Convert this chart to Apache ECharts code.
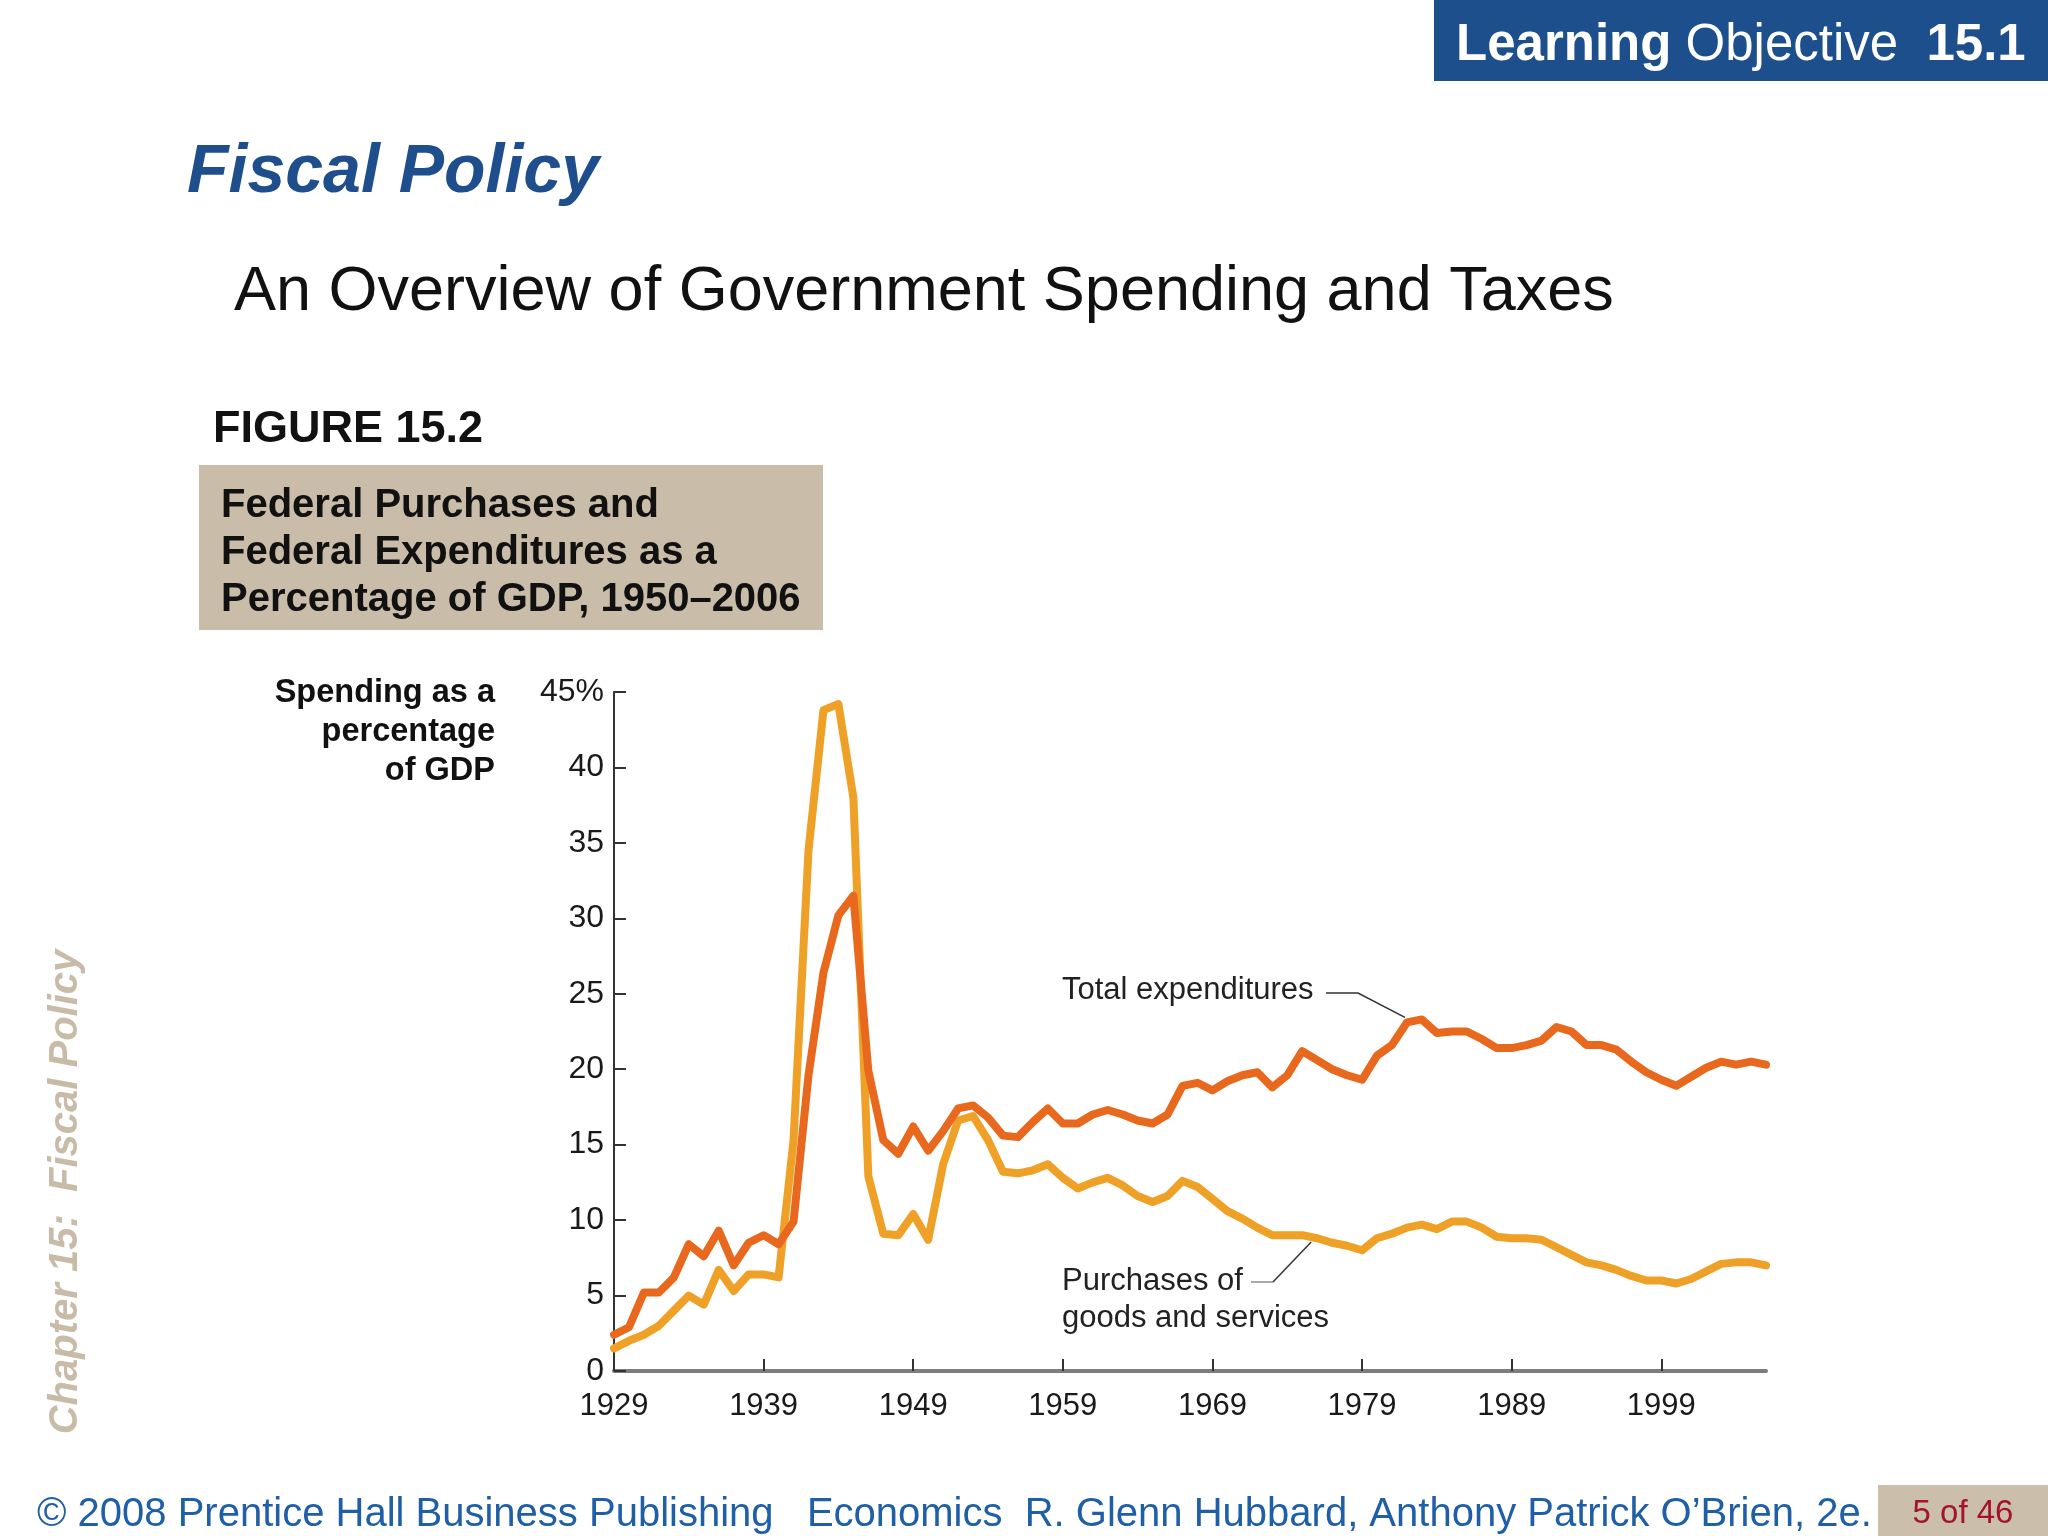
<!DOCTYPE html>
<html>
<head>
<meta charset="utf-8">
<script src="https://cdn.jsdelivr.net/npm/echarts@6/dist/echarts.min.js"></script>
<style>
  html, body { margin: 0; padding: 0; background: #ffffff; }
  #chart { width: 2048px; height: 1536px; }
</style>
</head>
<body>
<div id="chart"></div>
<script>
// ---------- data ----------
const years = [];
for (let y = 1929; y <= 2006; y++) years.push(String(y));

const totalExpenditures = [
  2.4, 2.9, 5.2, 5.2, 6.2, 8.4, 7.6, 9.3, 7.0, 8.5,        // 1929-1938
  9.0, 8.4, 9.9, 19.6, 26.4, 30.2, 31.5, 19.9, 15.3, 14.4, // 1939-1948
  16.2, 14.6, 15.9, 17.4, 17.6, 16.8, 15.6, 15.5, 16.5, 17.4, // 1949-1958
  16.4, 16.4, 17.0, 17.3, 17.0, 16.6, 16.4, 17.0, 18.9, 19.1, // 1959-1968
  18.6, 19.2, 19.6, 19.8, 18.8, 19.6, 21.2, 20.6, 20.0, 19.6, // 1969-1978
  19.3, 20.9, 21.6, 23.1, 23.3, 22.4, 22.5, 22.5, 22.0, 21.4, // 1979-1988
  21.4, 21.6, 21.9, 22.8, 22.5, 21.6, 21.6, 21.3, 20.5, 19.8, // 1989-1998
  19.3, 18.9, 19.5, 20.1, 20.5, 20.3, 20.5, 20.3              // 1999-2006
];

const purchases = [
  1.5, 2.0, 2.4, 3.0, 4.0, 5.0, 4.4, 6.7, 5.3, 6.4,          // 1929-1938
  6.4, 6.2, 15.3, 34.5, 43.8, 44.2, 38.0, 12.9, 9.1, 9.0,    // 1939-1948
  10.4, 8.7, 13.7, 16.6, 16.9, 15.3, 13.2, 13.1, 13.3, 13.7, // 1949-1958
  12.8, 12.1, 12.5, 12.8, 12.3, 11.6, 11.2, 11.6, 12.6, 12.2, // 1959-1968
  11.4, 10.6, 10.1, 9.5, 9.0, 9.0, 9.0, 8.8, 8.5, 8.3,       // 1969-1978
  8.0, 8.8, 9.1, 9.5, 9.7, 9.4, 9.9, 9.9, 9.5, 8.9,          // 1979-1988
  8.8, 8.8, 8.7, 8.2, 7.7, 7.2, 7.0, 6.7, 6.3, 6.0,          // 1989-1998
  6.0, 5.8, 6.1, 6.6, 7.1, 7.2, 7.2, 7.0                     // 1999-2006
];

const yTicks = { min: 0, max: 45, step: 5 };
const xLabelEvery = 10;

const axisTitleLines = ['Spending as a', 'percentage', 'of GDP'];
const figureBoxLines = ['Federal Purchases and', 'Federal Expenditures as a', 'Percentage of GDP, 1950\u20132006'];

// ---------- chart ----------
const FONT = '"Liberation Sans", Arial, Helvetica, sans-serif';
const chart = echarts.init(document.getElementById('chart'), null, { renderer: 'canvas' });

function txt(x, y, text, opts) {
  return {
    type: 'text', x: x, y: y, silent: true,
    style: Object.assign({
      text: text, fill: '#111', fontFamily: FONT, fontSize: 30,
      textAlign: 'left', textVerticalAlign: 'middle'
    }, opts || {})
  };
}

function baseGraphics() {
  const g = [];
  // header box
  g.push({ type: 'rect', shape: { x: 1434, y: 0, width: 614, height: 81 }, style: { fill: '#1c4f8b' }, silent: true });
  g.push({
    type: 'text', x: 1456, y: 46, silent: true,
    style: {
      text: '{b|Learning\u00A0}{r|Objective\u00A0\u00A0}{b|15.1}',
      textVerticalAlign: 'middle', textAlign: 'left',
      rich: {
        b: { fontSize: 51, fontWeight: 'bold', fontFamily: FONT, fill: '#ffffff' },
        r: { fontSize: 51, fontWeight: 'normal', fontFamily: FONT, fill: '#ffffff' }
      }
    }
  });
  // title + subtitle
  g.push(txt(187, 173, 'Fiscal Policy', { fontSize: 68, fontWeight: 'bold', fontStyle: 'italic', fill: '#1f4e8c' }));
  g.push(txt(234, 293, 'An Overview of Government Spending and Taxes', { fontSize: 63, fill: '#111' }));
  // figure label
  g.push(txt(213, 430, 'FIGURE 15.2', { fontSize: 45, fontWeight: 'bold' }));
  g.push({ type: 'rect', shape: { x: 199, y: 465, width: 624, height: 165 }, style: { fill: '#c9bca8' }, silent: true });
  figureBoxLines.forEach((l, i) => g.push(txt(221, 506 + i * 47, l, { fontSize: 40, fontWeight: 'bold' })));
  // axis title
  axisTitleLines.forEach((l, i) => g.push(txt(495, 693 + i * 39, l, { fontSize: 32.5, fontWeight: 'bold', textAlign: 'right' })));
  // annotations
  g.push(txt(1062, 990, 'Total expenditures', { fontSize: 31, fill: '#222' }));
  g.push(txt(1062, 1281, 'Purchases of', { fontSize: 31, fill: '#222' }));
  g.push(txt(1062, 1318, 'goods and services', { fontSize: 31, fill: '#222' }));
  // side chapter label
  g.push({
    type: 'text', x: 66, y: 1192, rotation: Math.PI / 2, silent: true,
    style: {
      text: 'Chapter 15:  Fiscal Policy', fontFamily: FONT, fontSize: 40, fontWeight: 'bold', fontStyle: 'italic',
      fill: '#c8bca9', textAlign: 'center', textVerticalAlign: 'middle'
    }
  });
  // footer
  g.push(txt(37, 1515, '\u00A9 2008 Prentice Hall Business Publishing   Economics  R. Glenn Hubbard, Anthony Patrick O\u2019Brien, 2e.', { fontSize: 40, fill: '#1f5fa8' }));
  g.push({ type: 'rect', shape: { x: 1878, y: 1485, width: 170, height: 51 }, style: { fill: '#cbbfab' }, silent: true });
  g.push(txt(1963, 1514, '5 of 46', { fontSize: 33, fill: '#a3142b', textAlign: 'center' }));
  return g;
}

const option = {
  backgroundColor: '#ffffff',
  animation: false,
  grid: { left: 614, top: 692, width: 1152, height: 679, containLabel: false },
  xAxis: {
    type: 'category',
    data: years,
    boundaryGap: false,
    axisLine: { show: true, lineStyle: { color: '#7d7d7d', width: 4 } },
    axisTick: {
      show: true, inside: true, length: 12,
      interval: (idx) => idx % xLabelEvery === 0,
      lineStyle: { color: '#333', width: 2 }
    },
    axisLabel: {
      interval: (idx) => idx % xLabelEvery === 0,
      margin: 20, fontSize: 31, color: '#1a1a1a', fontFamily: FONT
    },
    splitLine: { show: false }
  },
  yAxis: {
    type: 'value',
    min: yTicks.min, max: yTicks.max, interval: yTicks.step,
    axisLine: { show: true, lineStyle: { color: '#333', width: 2 } },
    axisTick: { show: true, inside: true, length: 12, lineStyle: { color: '#333', width: 2 } },
    axisLabel: {
      margin: 10, fontSize: 32, color: '#1a1a1a', fontFamily: FONT,
      formatter: (v) => (v === yTicks.max ? v + '%' : String(v))
    },
    splitLine: { show: false }
  },
  series: [
    {
      name: 'Purchases of goods and services', type: 'line', data: purchases,
      showSymbol: false, smooth: false, z: 2,
      lineStyle: { color: '#eea126', width: 8, join: 'round', cap: 'round' }
    },
    {
      name: 'Total expenditures', type: 'line', data: totalExpenditures,
      showSymbol: false, smooth: false, z: 3,
      lineStyle: { color: '#e8681d', width: 8, join: 'round', cap: 'round' }
    }
  ],
  graphic: baseGraphics()
};

chart.setOption(option);

// leader lines anchored to data positions
const iTot = years.indexOf('1982');
const pTot = chart.convertToPixel({ xAxisIndex: 0, yAxisIndex: 0 }, [iTot, totalExpenditures[iTot]]);
const iP = years.indexOf('1975');
const pA = chart.convertToPixel({ xAxisIndex: 0, yAxisIndex: 0 }, [iP, purchases[iP]]);
const pB = chart.convertToPixel({ xAxisIndex: 0, yAxisIndex: 0 }, [iP + 1, purchases[iP + 1]]);
const pPur = [pA[0] + 0.6 * (pB[0] - pA[0]), pA[1] + 0.6 * (pB[1] - pA[1])];

const g = baseGraphics();
g.push({
  type: 'polyline', silent: true,
  shape: { points: [[1326, 993], [1358, 993], [pTot[0] - 2, pTot[1] - 5]] },
  style: { stroke: '#333', lineWidth: 1.5, fill: null }, z: 10
});
g.push({
  type: 'polyline', silent: true,
  shape: { points: [[1251, 1282], [1273, 1282]] },
  style: { stroke: '#aaa', lineWidth: 2, fill: null }, z: 10
});
g.push({
  type: 'polyline', silent: true,
  shape: { points: [[1273, 1282], [pPur[0], pPur[1] + 5]] },
  style: { stroke: '#333', lineWidth: 1.5, fill: null }, z: 10
});
chart.setOption({ graphic: g }, { replaceMerge: ['graphic'] });
</script>
</body>
</html>
